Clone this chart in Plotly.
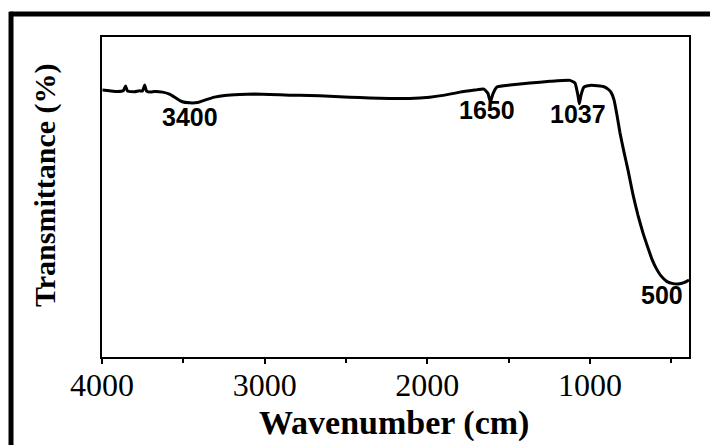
import plotly.graph_objects as go

# FTIR spectrum
wavenumber = [3997, 3954, 3905, 3868, 3855, 3843, 3800, 3770, 3751, 3738, 3726, 3700, 3677,
              3628, 3585, 3548, 3511, 3462, 3412, 3363, 3308, 3246, 3154, 3062, 2969, 2846,
              2723, 2600, 2477, 2354, 2231, 2108, 1985, 1892, 1800, 1708, 1652, 1628, 1612,
              1597, 1572, 1492, 1369, 1246, 1123, 1092, 1074, 1065, 1055, 1037, 1000, 938,
              914, 889, 871, 852, 834, 815, 791, 766, 735, 705, 674, 643, 619, 594, 563,
              526, 489, 459, 422, 391]
transmittance = [83.6, 83.4, 83.2, 83.5, 84.8, 83.3, 83.1, 83.4, 83.3, 85.1, 83.3, 83.0, 83.2,
                 83.0, 82.4, 81.3, 80.2, 79.8, 79.9, 80.7, 81.5, 82.0, 82.3, 82.4, 82.3, 82.1,
                 82.0, 81.8, 81.5, 81.25, 81.1, 81.1, 81.5, 82.1, 83.0, 83.6, 83.9, 82.7, 80.1,
                 82.4, 84.5, 85.1, 85.7, 86.2, 86.5, 85.7, 82.1, 79.5, 82.1, 84.5, 85.0, 84.8,
                 84.6, 83.9, 83.0, 80.7, 76.2, 70.8, 65.2, 59.8, 52.4, 46.4, 41.1, 36.6, 33.3,
                 30.7, 28.3, 26.6, 26.0, 25.9, 26.3, 27.1]

peak_labels = ["3400", "1650", "1037", "500"]
peak_x = [3462, 1630, 1075, 557]
peak_y = [75.5, 77.8, 76.5, 22.6]

x_ticks = [4000, 3000, 2000, 1000]

fig = go.Figure()
fig.add_trace(go.Scatter(x=wavenumber, y=transmittance, mode="lines",
                         line=dict(color="black", width=3, shape="spline", smoothing=0.4),
                         showlegend=False, hoverinfo="skip"))

for t, px, py in zip(peak_labels, peak_x, peak_y):
    fig.add_annotation(x=px, y=py, text=t, showarrow=False, xanchor="center", yanchor="middle",
                       font=dict(family="Liberation Sans", size=25, color="black", weight="bold"))

# axis titles
fig.add_annotation(xref="paper", yref="paper", x=0.497, y=-0.207, text="Wavenumber (cm)",
                   showarrow=False, xanchor="center", yanchor="middle",
                   font=dict(family="Liberation Serif", size=34, color="black", weight="bold"))
fig.add_annotation(xref="paper", yref="paper", x=-0.097, y=0.5375, text="Transmittance (%)",
                   textangle=-90, showarrow=False, xanchor="center", yanchor="middle",
                   font=dict(family="Liberation Serif", size=30, color="black", weight="bold"))

# outer black frame (top and left)
fig.add_shape(type="line", xref="paper", yref="paper", x0=-0.157, x1=1.06, y0=1.072, y1=1.072,
              line=dict(color="black", width=5))
fig.add_shape(type="line", xref="paper", yref="paper", x0=-0.155, x1=-0.155, y0=1.079, y1=-0.3,
              line=dict(color="black", width=5))

fig.update_xaxes(range=[4000, 391], tickvals=x_ticks, ticks="outside", ticklen=5, tickwidth=2,
                 tickcolor="black", showline=True, linecolor="black", linewidth=2, mirror=True,
                 showgrid=False, zeroline=False, ticklabelstandoff=-6,
                 minor=dict(ticks="outside", dtick=500, ticklen=4, tickwidth=2, tickcolor="black",
                            showgrid=False),
                 tickfont=dict(family="Liberation Serif", size=32, color="black"))
fig.update_yaxes(range=[4.17, 99.4], showticklabels=False, ticks="", showline=True, linecolor="black",
                 linewidth=2, mirror=True, showgrid=False, zeroline=False)

fig.update_layout(width=710, height=445, margin=dict(l=102, r=21, t=37, b=88),
                  paper_bgcolor="white", plot_bgcolor="white",
                  font=dict(family="Liberation Serif", color="black"))

fig.write_html("out.html")
